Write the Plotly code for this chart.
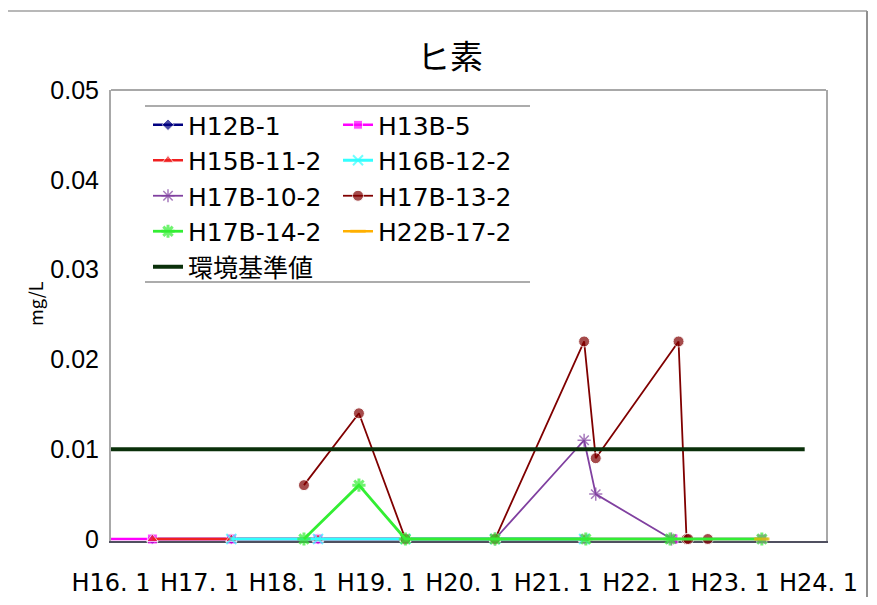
import plotly.graph_objects as go

# ---------------- data ----------------
chart_title = "ヒ素"
y_axis_title = "mg/L"

x_tick_dates = ["2004-01-01", "2005-01-01", "2006-01-01", "2007-01-01", "2008-01-01",
                "2009-01-01", "2010-01-01", "2011-01-01", "2012-01-01"]
x_tick_labels = ["H16. 1", "H17. 1", "H18. 1", "H19. 1", "H20. 1",
                 "H21. 1", "H22. 1", "H23. 1", "H24. 1"]
x_range = ["2004-01-01", "2012-02-01"]

y_tick_vals = [0, 0.01, 0.02, 0.03, 0.04, 0.05]
y_tick_labels = ["0", "0.01", "0.02", "0.03", "0.04", "0.05"]
y_range = [-0.00022, 0.05]

h12b_1_dates = ["2004-06-20", "2005-05-12", "2006-05-05", "2007-05-01", "2008-05-05", "2009-05-08"]
h12b_1_vals = [0, 0, 0, 0, 0, 0]

h13b_5_dates = ["2003-09-01", "2004-06-20", "2005-05-12", "2006-05-05", "2007-05-01",
                "2008-05-05", "2009-05-08", "2010-05-10", "2011-05-12"]
h13b_5_vals = [0, 0, 0, 0, 0, 0, 0, 0, 0]

h15b_11_2_dates = ["2004-06-20", "2005-05-12", "2006-05-05", "2007-05-01", "2008-05-05", "2009-05-08"]
h15b_11_2_vals = [0, 0, 0, 0, 0, 0]

h16b_12_2_dates = ["2005-05-12", "2006-05-05", "2007-05-01", "2008-05-05", "2009-05-08"]
h16b_12_2_vals = [0, 0, 0, 0, 0]

h17b_10_2_dates = ["2008-05-05", "2009-05-08", "2009-06-25", "2010-05-04"]
h17b_10_2_vals = [0, 0.011, 0.005, 0]

h17b_13_2_dates = ["2006-03-08", "2006-10-21", "2007-05-01", "2008-05-05", "2009-05-08",
                   "2009-06-25", "2010-06-02", "2010-07-05", "2010-07-12", "2010-10-01"]
h17b_13_2_vals = [0.006, 0.014, 0, 0, 0.022, 0.009, 0.022, 0, 0, 0]

h17b_14_2_dates = ["2006-03-08", "2006-10-21", "2007-05-01", "2008-05-05", "2009-05-15",
                   "2010-04-28", "2011-05-12"]
h17b_14_2_vals = [0, 0.006, 0, 0, 0, 0, 0]

h22b_17_2_dates = ["2011-05-12"]
h22b_17_2_vals = [0]

standard_dates = ["2004-01-01", "2011-11-05"]
standard_vals = [0.01, 0.01]

# ---------------- figure ----------------
OFF = 8  # page body margin offset
W, H = 877 - 2 * OFF, 605 - 2 * OFF
ML, MT = 111 - OFF, 90 - OFF
MR = W - (826 - OFF)
MB = H - (541 - OFF)
PW, PH = W - ML - MR, H - MT - MB


def px_x(px):
    return (px - OFF - ML) / PW


def px_y(py):
    return (H - MB - (py - OFF)) / PH


legend_font = dict(family="DejaVu Sans, Noto Sans CJK JP", size=25, color="black")

fig = go.Figure()


def add_series(name, dates, vals, color, symbol, msize, legend, group, lw=2.5, mline=None):
    sizes = [0 if d < x_range[0] else msize for d in dates]
    marker = dict(color=color, symbol=symbol, size=sizes)
    if mline is not None:
        marker["line"] = dict(color=color, width=mline)
    fig.add_trace(go.Scatter(
        x=dates, y=vals, name=name, mode="lines+markers",
        line=dict(color=color, width=lw), marker=marker,
        cliponaxis=False, legend=legend, legendgroup=group,
    ))


add_series("H12B-1", h12b_1_dates, h12b_1_vals, "#000080", "diamond", 9, "legend", "g1")
add_series("H13B-5", h13b_5_dates, h13b_5_vals, "#FF00FF", "square", 10, "legend2", "g2")
add_series("H15B-11-2", h15b_11_2_dates, h15b_11_2_vals, "#F02020", "triangle-up", 10, "legend", "g3")
add_series("H16B-12-2", h16b_12_2_dates, h16b_12_2_vals, "#33FFFF", "x-thin-open", 10, "legend2", "g4", lw=3, mline=2)
add_series("H17B-10-2", h17b_10_2_dates, h17b_10_2_vals, "#8040A0", "asterisk-open", 11, "legend", "g5", lw=1.8, mline=1.5)
add_series("H17B-13-2", h17b_13_2_dates, h17b_13_2_vals, "#800000", "circle", 11, "legend2", "g6", lw=1.8)
add_series("H17B-14-2", h17b_14_2_dates, h17b_14_2_vals, "#33EE33", "asterisk-open", 11, "legend", "g7", lw=2.8, mline=3)
add_series("H22B-17-2", h22b_17_2_dates, h22b_17_2_vals, "#FFB000", "line-ew-open", 11, "legend2", "g8", lw=2.5, mline=3)

fig.add_trace(go.Scatter(
    x=standard_dates, y=standard_vals, name="環境基準値", mode="lines",
    line=dict(color="#0A300A", width=4), legend="legend", legendgroup="g9",
))

shapes = [
    # plot area top border
    dict(type="line", xref="paper", yref="paper", x0=0, x1=1, y0=px_y(90), y1=px_y(90),
         line=dict(color="#A8A8A8", width=2), layer="below"),
    # legend top / bottom rules
    dict(type="line", xref="paper", yref="paper", x0=px_x(145), x1=px_x(530),
         y0=px_y(106), y1=px_y(106), line=dict(color="#909090", width=1.5)),
    dict(type="line", xref="paper", yref="paper", x0=px_x(145), x1=px_x(530),
         y0=px_y(282), y1=px_y(282), line=dict(color="#909090", width=1.5)),
    # outer chart border (top and right)
    dict(type="line", xref="paper", yref="paper", x0=px_x(8), x1=px_x(867),
         y0=px_y(11), y1=px_y(11), line=dict(color="#A0A0A0", width=1.5)),
    dict(type="line", xref="paper", yref="paper", x0=px_x(867), x1=px_x(867),
         y0=px_y(11), y1=px_y(597), line=dict(color="#909090", width=2)),
]

fig.update_layout(
    width=W, height=H,
    margin=dict(l=ML, r=MR, t=MT, b=MB, autoexpand=False),
    paper_bgcolor="white", plot_bgcolor="white",
    title=dict(text=chart_title, x=px_x(450), xref="paper", xanchor="center",
               y=1 - (57 - OFF) / H, yref="container", yanchor="middle",
               font=dict(family="Noto Sans CJK JP", size=33, color="black")),
    xaxis=dict(type="date", range=x_range, tickvals=x_tick_dates, ticktext=x_tick_labels,
               showgrid=False, zeroline=False, showline=True, linecolor="#505060",
               linewidth=2, ticks="", ticklabelstandoff=19, layer="below traces",
               tickfont=dict(family="DejaVu Sans", size=24, color="black")),
    yaxis=dict(range=y_range, tickvals=y_tick_vals, ticktext=y_tick_labels,
               showgrid=False, zeroline=False, showline=True, mirror=True,
               linecolor="#A8A8A8", linewidth=2, ticks="", ticklabelstandoff=5,
               layer="below traces",
               tickfont=dict(family="Liberation Sans", size=25, color="black")),
    legend=dict(x=px_x(148), y=px_y(102), xanchor="left", yanchor="top",
                bgcolor="rgba(0,0,0,0)", font=legend_font, tracegroupgap=2,
                traceorder="normal"),
    legend2=dict(x=px_x(338), y=px_y(102), xanchor="left", yanchor="top",
                 bgcolor="rgba(0,0,0,0)", font=legend_font, tracegroupgap=2,
                 traceorder="normal"),
    shapes=shapes,
    annotations=[dict(text=y_axis_title, xref="paper", yref="paper", x=px_x(35), y=px_y(304),
                      showarrow=False, textangle=-90, xanchor="center", yanchor="middle",
                      font=dict(family="Noto Sans CJK JP", size=18, color="black"))],
    showlegend=True,
)

fig.write_html("out.html")
